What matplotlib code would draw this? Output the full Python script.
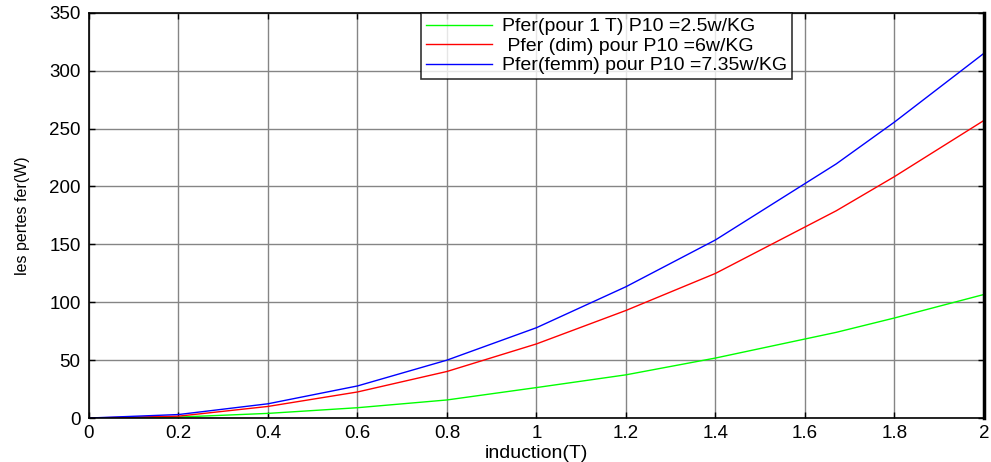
import numpy as np
import matplotlib
matplotlib.use("Agg")
import matplotlib.pyplot as plt

plt.rcParams['font.family'] = ['Liberation Sans', 'DejaVu Sans']

# induction (T)
B = [0, 0.2, 0.4, 0.6, 0.8, 1.0, 1.2, 1.4, 1.67, 1.8, 2.0]

# pertes fer (W)
p_1T = [0, 0.8, 4.0, 8.9, 15.6, 26.3, 37.3, 51.8, 74, 86.4, 106.7]
p_dim = [0, 1.6, 10.0, 22.5, 40.2, 64.0, 92.9, 124.9, 179, 208.5, 257]
p_femm = [0, 3.0, 12.3, 27.7, 50.0, 78.0, 113.4, 153.8, 219.5, 255.6, 315]

labels = ["Pfer(pour 1 T) P10 =2.5w/KG",
          " Pfer (dim) pour P10 =6w/KG",
          "Pfer(femm) pour P10 =7.35w/KG"]

fig = plt.figure(figsize=(9.91, 4.62), dpi=100)
ax = fig.add_axes([0.0898, 0.0952, 0.903, 0.877])

ax.plot(B, p_1T, color='#00ff00', lw=1, label=labels[0])
ax.plot(B, p_dim, color='#ff0000', lw=1, label=labels[1])
ax.plot(B, p_femm, color='#0000ff', lw=1, label=labels[2])

ax.set_xlim(0, 2)
ax.set_ylim(0, 350)
ax.set_xticks(np.arange(0, 2.01, 0.2))
ax.set_xticklabels(['0', '0.2', '0.4', '0.6', '0.8', '1', '1.2', '1.4', '1.6', '1.8', '2'])
ax.set_yticks(np.arange(0, 351, 50))

ax.grid(True, color='#858585', lw=1, ls='-')
ax.tick_params(direction='in', top=True, right=True, length=4, width=1,
               labelsize=13.5, color='black')
ax.tick_params(axis='x', pad=5)
ax.tick_params(axis='y', pad=6)
for s in ax.spines.values():
    s.set_color('black')
    s.set_linewidth(1.2)
ax.spines['right'].set_linewidth(2.5)

ax.set_xlabel('induction(T)', fontsize=14, labelpad=2)
ax.set_ylabel('les pertes fer(W)', fontsize=11.5, labelpad=14)

leg = ax.legend(loc='upper left', bbox_to_anchor=(0.371, 1.0), fontsize=14,
                frameon=True, fancybox=False, edgecolor='black',
                handlelength=3.4, borderpad=0.25, labelspacing=0.1,
                handletextpad=0.5, borderaxespad=0)
leg.get_frame().set_linewidth(1.2)

fig.savefig('out.png', dpi=100)
